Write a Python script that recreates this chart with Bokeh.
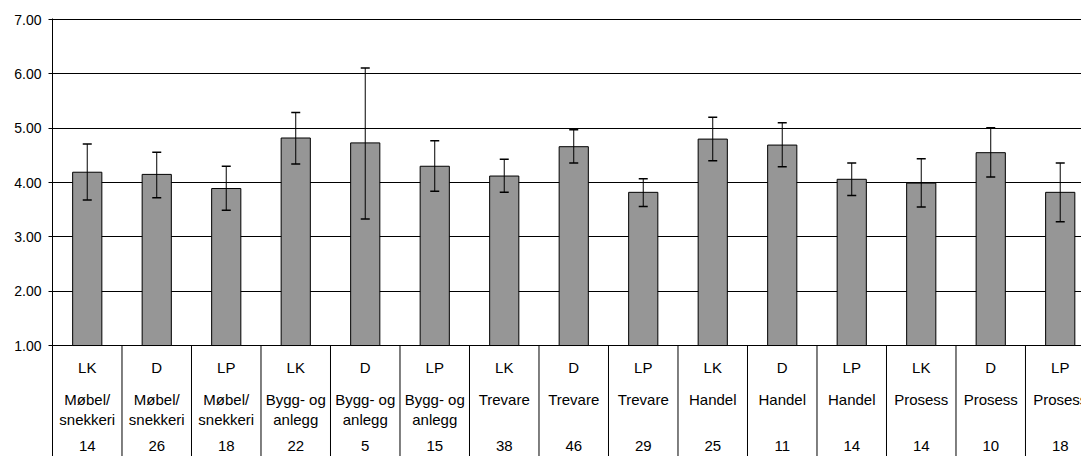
from bokeh.plotting import figure
from bokeh.models import Range1d, FixedTicker, NumeralTickFormatter, ColumnDataSource, Whisker, TeeHead
from bokeh.core.properties import value
from bokeh.embed import file_html
from bokeh.resources import INLINE

groups = ["LK", "D", "LP", "LK", "D", "LP", "LK", "D", "LP", "LK", "D", "LP", "LK", "D", "LP"]
sector_line1 = ["Møbel/", "Møbel/", "Møbel/", "Bygg- og", "Bygg- og", "Bygg- og",
                "Trevare", "Trevare", "Trevare", "Handel", "Handel", "Handel",
                "Prosess", "Prosess", "Prosess"]
sector_line2 = ["snekkeri", "snekkeri", "snekkeri", "anlegg", "anlegg", "anlegg",
                "", "", "", "", "", "", "", "", ""]
counts = ["14", "26", "18", "22", "5", "15", "38", "46", "29", "25", "11", "14", "14", "10", "18"]
means = [4.19, 4.15, 3.89, 4.82, 4.73, 4.30, 4.12, 4.66, 3.82, 4.80, 4.69, 4.06, 3.99, 4.55, 3.82]
err_low = [3.68, 3.72, 3.49, 4.34, 3.33, 3.84, 3.82, 4.36, 3.56, 4.40, 4.29, 3.76, 3.55, 4.10, 3.28]
err_high = [4.71, 4.56, 4.30, 5.29, 6.11, 4.77, 4.43, 4.97, 4.07, 5.20, 5.10, 4.36, 4.44, 5.01, 4.36]
y_ticks = [1, 2, 3, 4, 5, 6, 7]

n = len(means)
xs = list(range(n))
FONT = value("Liberation Sans")

p = figure(width=1081, height=456, output_backend="svg", toolbar_location=None,
           x_axis_location=None, x_range=Range1d(-0.5, 14.306), y_range=Range1d(-1.043, 7.02))
p.min_border_left = 52
p.min_border_right = 0
p.min_border_top = 18
p.min_border_bottom = 0
p.outline_line_color = None
p.background_fill_color = "white"
p.border_fill_color = "white"

p.xgrid.visible = False
p.ygrid.ticker = FixedTicker(ticks=y_ticks)
p.ygrid.grid_line_color = "black"
p.ygrid.grid_line_width = 1

ax = p.yaxis[0]
ax.ticker = FixedTicker(ticks=y_ticks)
ax.formatter = NumeralTickFormatter(format="0.00")
ax.axis_line_color = "black"
ax.major_tick_line_color = "black"
ax.major_tick_out = 4
ax.major_tick_in = 0
ax.minor_tick_line_color = None
ax.major_label_standoff = 7
ax.major_label_text_font = "Liberation Sans"
ax.major_label_text_font_size = "14px"
ax.major_label_text_color = "black"

src = ColumnDataSource(dict(x=xs, top=means, lo=err_low, hi=err_high,
                            g=groups, s1=sector_line1, s2=sector_line2, c=counts))

p.vbar(x="x", top="top", bottom=1, width=0.42, source=src,
       fill_color="#969696", line_color="black", line_width=1)

wh = Whisker(base="x", lower="lo", upper="hi", source=src, line_color="black", line_width=1,
             level="overlay",
             upper_head=TeeHead(size=9, line_color="black", line_width=1.5),
             lower_head=TeeHead(size=9, line_color="black", line_width=1.5))
p.add_layout(wh)

# category dividers in the label area
bounds = [i - 0.5 for i in range(n + 1)]
p.segment(x0=bounds, x1=bounds, y0=[1] * len(bounds), y1=[-1.043] * len(bounds),
          line_color="black", line_width=1)

common = dict(x="x", y=1, source=src, text_font=FONT, text_font_size="15px",
              text_color="black", text_align="center", text_baseline="middle")
p.text(text="g", y_offset=22, **common)
p.text(text="s1", y_offset=54, **common)
p.text(text="s2", y_offset=74, **common)
p.text(text="c", y_offset=100, **common)

open("out.html", "w").write(file_html(p, INLINE))
